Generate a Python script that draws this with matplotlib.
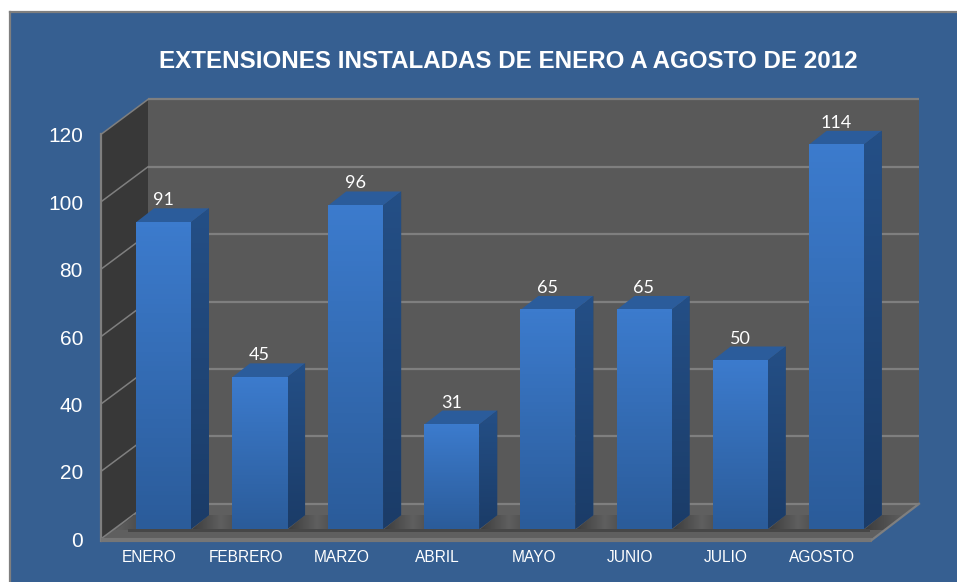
import matplotlib
matplotlib.use('Agg')
import matplotlib.pyplot as plt
import numpy as np
from matplotlib.colors import LinearSegmentedColormap
from matplotlib.patches import Polygon

months = ['ENERO', 'FEBRERO', 'MARZO', 'ABRIL', 'MAYO', 'JUNIO', 'JULIO', 'AGOSTO']
values = [91, 45, 96, 31, 65, 65, 50, 114]
ticks = [0, 20, 40, 60, 80, 100, 120]
title = 'EXTENSIONES INSTALADAS DE ENERO A AGOSTO DE 2012'

# px per category / per unit, bar 0 centre and the baseline in image pixels
sx = 96.1
sy = 3.37
x0 = 163.5
y0 = 529

def px(n):
    return n / sx

def py(n):
    return n / sy

fig = plt.figure(figsize=(9.57, 5.82), dpi=100, facecolor='white')
ax = fig.add_axes([0, 0, 1, 1])
ax.axis('off')

def poly(pts, color, z, **kw):
    p = Polygon(pts, closed=True, facecolor=color, edgecolor='none', zorder=z, **kw)
    ax.add_patch(p)
    return p

def grad(name, top, bottom, ext, z, clip=None):
    cm = LinearSegmentedColormap.from_list(name, [bottom, top])
    g = np.linspace(1, 0, 64).reshape(-1, 1)
    im = ax.imshow(g, cmap=cm, vmin=0, vmax=1, extent=ext, aspect='auto', zorder=z)
    if clip is not None:
        im.set_clip_path(clip)

def floor_shadow(name, left, right, colors, z):
    # soft shadow on the floor, dark next to a bar and fading away from it
    clip = poly([(left, -py(1)), (left + bdx, bdy), (right + bdx, bdy), (right, -py(1))],
                colors[1], z)
    cm = LinearSegmentedColormap.from_list(name, colors)
    g = np.linspace(0, 1, 64).reshape(1, -1)
    im = ax.imshow(g, cmap=cm, vmin=0, vmax=1, extent=(left, right + bdx, -py(1), bdy),
                   aspect='auto', zorder=z + 0.1)
    im.set_clip_path(clip)

# walls: front edge left and right, depth offset of the back wall
fl = px(101 - x0)
fr = px(872 - x0)
base = -py(538.8 - y0)
dx = px(47)
dy = py(35)
top = ticks[-1] + base
edge = '#7f7f7f'
half = px(27.5)
bdx = px(18)
bdy = py(14)

# chart background with the frame running off right and bottom
poly([(px(10 - x0), py(y0 - 582)), (px(957 - x0), py(y0 - 582)),
      (px(957 - x0), py(y0 - 12)), (px(10 - x0), py(y0 - 12))], '#365f91', 0)
ax.plot([px(10 - x0), px(10 - x0)], [py(y0 - 582), py(y0 - 12)], color=edge, lw=1.6, zorder=1)
ax.plot([px(10 - x0), px(957 - x0)], [py(y0 - 12), py(y0 - 12)], color=edge, lw=1.6, zorder=1)

poly([(fl + dx, base + dy), (fr + dx, base + dy), (fr + dx, top + dy), (fl + dx, top + dy)], '#595959', 2)
poly([(fl, base), (fl + dx, base + dy), (fl + dx, top + dy), (fl, top)], '#383838', 2)
poly([(fl, base), (fr, base), (fr + dx, base + dy), (fl + dx, base + dy)], '#5f5f5f', 2)

for t in ticks:
    v = t + base
    ax.plot([fl + dx, fr + dx], [v + dy, v + dy], color=edge, lw=1.6, zorder=3, solid_capstyle='butt')
    ax.plot([fl, fl + dx], [v, v + dy], color=edge, lw=1.1, zorder=3)
    ax.text(px(83 - x0), v - py(2.5), str(t), color='white', ha='right', va='center',
            fontsize=15, family='Liberation Sans', zorder=8)

ax.plot([fl, fl], [base - py(2), top], color=edge, lw=1.6, zorder=4)
ax.plot([fl, fr], [base - py(1), base - py(1)], color='#767676', lw=3, zorder=4, solid_capstyle='butt')
ax.plot([fr, fr + dx], [base - py(1), base + dy], color=edge, lw=1.6, zorder=4)

# shadows on the floor, the gaps between bars plus both ends of the row
n = len(values)
shade = ['#3c3c3c', '#5f5f5f', '#414141']
floor_shadow('sh_l', -half - px(20), -half, ['#5f5f5f', '#424242'], 3.4)
for i in range(n - 1):
    floor_shadow('sh%d' % i, i + half, i + 1 - half, shade, 3.4)
floor_shadow('sh_r', n - 1 + half, n - 1 + half + px(22), ['#3c3c3c', '#5f5f5f'], 3.4)
poly([(-half - px(8), -py(2.5)), (n - 1 + half + px(6), -py(2.5)),
      (n - 1 + half + px(6), 0), (-half - px(8), 0)], '#474747', 3.6)

# bars
for i, (m, v) in enumerate(zip(months, values)):
    l, r = i - half, i + half
    side = poly([(r, 0), (r + bdx, bdy), (r + bdx, v + bdy), (r, v)], '#1f4576', 5)
    grad('side%d' % i, '#244f86', '#1b3c68', (r, r + bdx, 0, v + bdy), 5.1, clip=side)
    poly([(l, v), (r, v), (r + bdx, v + bdy), (l + bdx, v + bdy)], '#2b5c9b', 5)
    grad('front%d' % i, '#3c7bcd', '#2b5c9a', (l, r, 0, v), 6)
    ax.text(i, v + py(22), str(v), color='white', ha='center', va='center',
            fontsize=13, family='Lato', zorder=8)
    ax.text(i - px(14), -py(28.5), m, color='white', ha='center', va='center',
            fontsize=11.2, family='Liberation Sans', zorder=8)

ax.text(px(508.5 - x0), py(y0 - 61), title, color='white', ha='center', va='center',
        fontsize=17.4, fontweight='bold', family='Liberation Sans', zorder=8)

ax.set_xlim(px(-x0), px(957 - x0))
ax.set_ylim(py(y0 - 582), py(y0))
fig.savefig('out.png', dpi=100, facecolor='white')
